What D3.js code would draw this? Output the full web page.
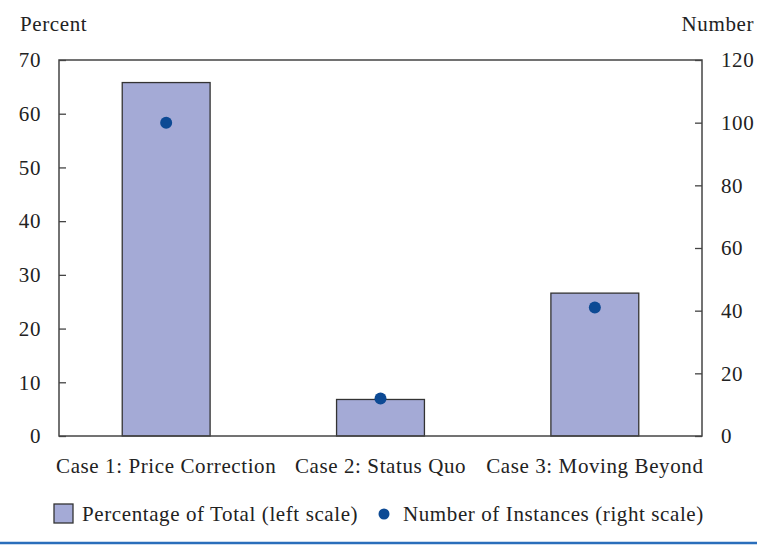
<!DOCTYPE html>
<html>
<head>
<meta charset="utf-8">
<script src="https://cdn.jsdelivr.net/npm/d3@7"></script>
<style>
  body { margin: 0; background: #fff; }
  text { font-family: "Liberation Serif", "DejaVu Serif", serif; fill: #222; letter-spacing: 0.6px; }
</style>
</head>
<body>
<svg id="chart" width="757" height="545"></svg>
<script>
// data
const categories = ["Case 1: Price Correction", "Case 2: Status Quo", "Case 3: Moving Beyond"];
const percentOfTotal = [65.8, 6.8, 26.6];
const numberOfInstances = [100, 12, 41];
const leftTicks = [0, 10, 20, 30, 40, 50, 60, 70];
const rightTicks = [0, 20, 40, 60, 80, 100, 120];

const fontSize = 21;

const svg = d3.select("#chart");
const margin = { top: 60, right: 55, bottom: 109, left: 59 };
const width = 757 - margin.left - margin.right;
const height = 545 - margin.top - margin.bottom;

const g = svg.append("g").attr("transform", `translate(${margin.left},${margin.top})`);

const x = d3.scaleBand().domain(categories).range([0, width]).paddingInner(0.59).paddingOuter(0.295);
const yLeft = d3.scaleLinear().domain([0, 70]).range([height, 0]);
const yRight = d3.scaleLinear().domain([0, 120]).range([height, 0]);

// bars
g.selectAll("rect.bar")
  .data(categories)
  .enter().append("rect")
  .attr("class", "bar")
  .attr("x", d => x(d))
  .attr("width", x.bandwidth())
  .attr("y", (d, i) => yLeft(percentOfTotal[i]))
  .attr("height", (d, i) => height - yLeft(percentOfTotal[i]))
  .attr("fill", "#a4aad6")
  .attr("stroke", "#333")
  .attr("stroke-width", 1.3);

// dots
g.selectAll("circle.dot")
  .data(categories)
  .enter().append("circle")
  .attr("class", "dot")
  .attr("cx", d => x(d) + x.bandwidth() / 2)
  .attr("cy", (d, i) => yRight(numberOfInstances[i]))
  .attr("r", 6)
  .attr("fill", "#0d4a94");

// frame
g.append("rect")
  .attr("width", width).attr("height", height)
  .attr("fill", "none").attr("stroke", "#444").attr("stroke-width", 1.5);

// left axis: ticks inside, labels outside
const leftAxis = g.append("g").call(d3.axisRight(yLeft).tickValues(leftTicks).tickSize(7).tickFormat(""));
leftAxis.select(".domain").remove();
leftAxis.selectAll("line").attr("stroke", "#444").attr("stroke-width", 1.3);
g.selectAll("text.lt")
  .data(leftTicks)
  .enter().append("text")
  .attr("class", "lt")
  .attr("x", -18)
  .attr("y", d => yLeft(d))
  .attr("dy", "0.35em")
  .attr("text-anchor", "end")
  .attr("font-size", fontSize)
  .text(d => d);

const rightAxis = g.append("g").attr("transform", `translate(${width},0)`)
  .call(d3.axisLeft(yRight).tickValues(rightTicks).tickSize(7).tickFormat(""));
rightAxis.select(".domain").remove();
rightAxis.selectAll("line").attr("stroke", "#444").attr("stroke-width", 1.3);
g.selectAll("text.rt")
  .data(rightTicks)
  .enter().append("text")
  .attr("class", "rt")
  .attr("x", width + 19)
  .attr("y", d => yRight(d))
  .attr("dy", "0.35em")
  .attr("text-anchor", "start")
  .attr("font-size", fontSize)
  .text(d => d);

// category labels
g.selectAll("text.cat")
  .data(categories)
  .enter().append("text")
  .attr("class", "cat")
  .attr("x", d => x(d) + x.bandwidth() / 2)
  .attr("y", height + 37)
  .attr("text-anchor", "middle")
  .attr("font-size", fontSize)
  .text(d => d);

// axis titles
svg.append("text").attr("x", 20).attr("y", 31).attr("font-size", fontSize).text("Percent");
svg.append("text").attr("x", 754).attr("y", 31).attr("text-anchor", "end").attr("font-size", fontSize).text("Number");

// legend
const leg = svg.append("g");
leg.append("rect").attr("x", 54).attr("y", 504).attr("width", 19).attr("height", 19)
  .attr("fill", "#a4aad6").attr("stroke", "#333").attr("stroke-width", 1.3);
leg.append("text").attr("x", 82).attr("y", 521).attr("font-size", fontSize).text("Percentage of Total (left scale)");
leg.append("circle").attr("cx", 384).attr("cy", 514).attr("r", 5.5).attr("fill", "#0d4a94");
leg.append("text").attr("x", 403).attr("y", 521).attr("font-size", fontSize).text("Number of Instances (right scale)");

// bottom rule
svg.append("line").attr("x1", 0).attr("x2", 757).attr("y1", 543).attr("y2", 543)
  .attr("stroke", "#2a6ebb").attr("stroke-width", 2.5);
</script>
</body>
</html>
